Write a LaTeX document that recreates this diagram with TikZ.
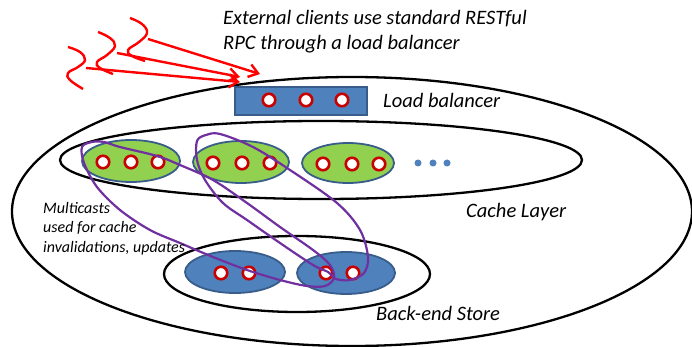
\documentclass[tikz,border=0pt]{standalone}
\usepackage{fontspec}
\setmainfont{Carlito}
\usetikzlibrary{shapes.geometric,arrows.meta}
\definecolor{cred}{RGB}{200,0,0}
\definecolor{agreen}{RGB}{146,208,80}
\definecolor{ablue}{RGB}{79,129,189}
\definecolor{aborder}{RGB}{56,93,138}
\definecolor{apurple}{RGB}{112,48,160}
\definecolor{arrowred}{RGB}{255,0,0}
\begin{document}
\begin{tikzpicture}[x=1pt,y=-1pt,
  region/.style={ellipse, draw=black, line width=2.3pt, inner sep=0pt, outer sep=0pt},
  cachegrp/.style={ellipse, draw=aborder, fill=agreen, line width=1.8pt, inner sep=0pt},
  storegrp/.style={ellipse, draw=aborder, fill=ablue, line width=1.8pt, inner sep=0pt},
  srv/.style={circle, draw=cred, fill=white, line width=2.6pt, minimum size=12.5pt, inner sep=0pt},
  moredot/.style={circle, fill=ablue, minimum size=7pt, inner sep=0pt},
  lbbox/.style={rectangle, draw=aborder, fill=ablue, line width=1.8pt, minimum width=132pt, minimum height=28pt, inner sep=0pt},
  mcloop/.style={draw=apurple, line width=2.2pt},
  wave/.style={draw=arrowred, line width=2.4pt},
  rpc/.style={draw=arrowred, line width=2.4pt, -{Straight Barb[length=9pt,width=13pt]}},
  lbl/.style={anchor=base west, inner sep=0pt, font=\itshape\fontsize{20.5}{25}\selectfont},
  smalllbl/.style={anchor=base west, inner sep=0pt, font=\itshape\fontsize{16}{19.5}\selectfont}
]
\useasboundingbox (0,0) rectangle (692,347);

% containers
\node[region, minimum width=680pt, minimum height=269pt] (outer) at (352,211.5) {};
\node[region, minimum width=522pt, minimum height=78pt] (cache) at (321,160) {};
\node[region, minimum width=266pt, minimum height=76pt] (store) at (297,274) {};

% load balancer
\node[lbbox] (lb) at (301,101) {};
\node[srv] (lb1) at (269,100) {};
\node[srv] (lb2) at (306,100) {};
\node[srv] (lb3) at (342,100) {};

% cache groups
\node[cachegrp, minimum width=98pt, minimum height=42pt] (g1) at (131,161) {};
\node[cachegrp, minimum width=96pt, minimum height=42pt] (g2) at (241,162) {};
\node[cachegrp, minimum width=92pt, minimum height=40pt] (g3) at (348,163) {};
\node[srv] (c11) at (103,162) {};
\node[srv] (c12) at (131,162) {};
\node[srv] (c13) at (158,162) {};
\node[srv] (c21) at (213,163) {};
\node[srv] (c22) at (242,163) {};
\node[srv] (c23) at (270,163) {};
\node[srv] (c31) at (323,164) {};
\node[srv] (c32) at (352,164) {};
\node[srv] (c33) at (379,164) {};
\node[moredot] (d1) at (418,163) {};
\node[moredot] (d2) at (433,163) {};
\node[moredot] (d3) at (447,163) {};

% back-end store groups
\node[storegrp, minimum width=100pt, minimum height=42pt] (b1) at (235,272) {};
\node[storegrp, minimum width=98pt, minimum height=42pt] (b2) at (346,273) {};
\node[srv] (s11) at (221,273) {};
\node[srv] (s12) at (249,273) {};
\node[srv] (s21) at (326,273) {};
\node[srv] (s22) at (353,273) {};

% multicast loops
\draw[mcloop] plot[smooth cycle, tension=0.55] coordinates {
  (82,147) (92,142) (104,142) (120,147) (157,156) (180,165) (213,180) (247,203)
  (280,227) (313,250) (330,265) (334,278) (325,286) (307,286) (280,280) (247,270)
  (213,257) (180,243) (150,230) (120,210) (97,187) (84,163)};
\draw[mcloop] plot[smooth cycle, tension=0.55] coordinates {
  (197,141) (206,135) (220,134) (253,147) (290,170) (337,203) (360,230) (368,257)
  (364,273) (350,280) (336,279) (328,272) (313,265) (280,243) (247,220) (223,203)
  (205,180) (197,160)};

% labels
\node[lbl] (ext1) at (223,25) {External clients use standard RESTful};
\node[lbl] (ext2) at (223,50) {RPC through a load balancer};
\node[lbl] (lblb) at (383,108) {Load balancer};
\node[lbl] (lbcache) at (466,217) {Cache Layer};
\node[lbl] (lbstore) at (376,320) {Back-end Store};
\node[smalllbl] (mc1) at (43,213) {Multicasts};
\node[smalllbl] (mc2) at (43,232) {used for cache};
\node[smalllbl] (mc3) at (43,252) {invalidations, updates};

% external clients
\draw[wave] plot[smooth, tension=0.7] coordinates {(68,47) (80,52) (85,60) (78,67) (68,73) (70,80) (83,89)};
\draw[wave] plot[smooth, tension=0.7] coordinates {(98,32) (110,38) (115,46) (107,55) (97,62) (100,68) (113,74)};
\draw[wave] plot[smooth, tension=0.7] coordinates {(130,18) (142,24) (147,33) (139,42) (128,50) (132,56) (145,61)};
\coordinate (cl1) at (86,68);
\coordinate (cl2) at (117,53);
\coordinate (cl3) at (148,39);
\coordinate (in1) at (240,82);
\coordinate (in2) at (240,77);
\coordinate (in3) at (260,74);
\draw[rpc] (cl1) -- (in1);
\draw[rpc] (cl2) -- (in2);
\draw[rpc] (cl3) -- (in3);
\end{tikzpicture}
\end{document}
